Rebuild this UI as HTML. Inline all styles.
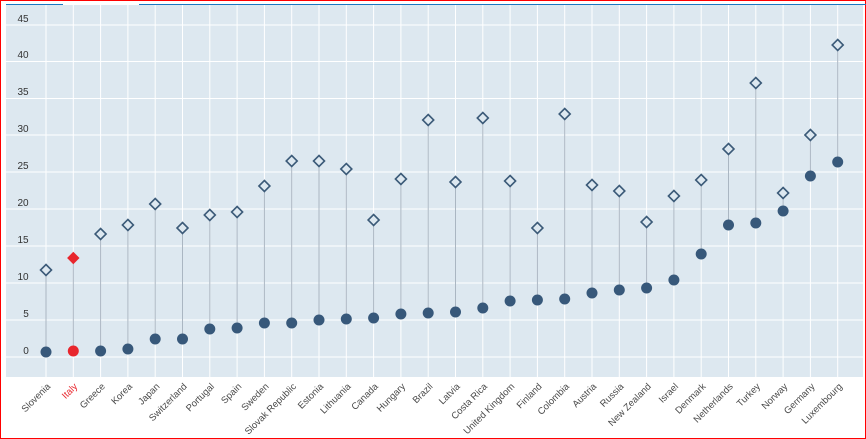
<!DOCTYPE html>
<html><head><meta charset="utf-8"><style>
html,body{margin:0;padding:0;background:#fff}
svg{display:block;font-family:"Liberation Sans",sans-serif}
</style></head><body>
<svg width="866" height="439" viewBox="0 0 866 439">
<rect x="0.5" y="0.5" width="865" height="438" fill="#fff" stroke="#f00"/>
<rect x="6" y="5" width="857" height="372" fill="#dde8f0"/>
<line x1="6" y1="4.5" x2="63" y2="4.5" stroke="#1a78c2"/>
<line x1="139" y1="4.5" x2="866" y2="4.5" stroke="#1a78c2"/>
<g stroke="#fff" stroke-width="1">
<line x1="6" x2="863" y1="25" y2="25"/><line x1="6" x2="863" y1="61.5" y2="61.5"/><line x1="6" x2="863" y1="98.5" y2="98.5"/><line x1="6" x2="863" y1="135" y2="135"/><line x1="6" x2="863" y1="172" y2="172"/><line x1="6" x2="863" y1="209" y2="209"/><line x1="6" x2="863" y1="246" y2="246"/><line x1="6" x2="863" y1="283" y2="283"/><line x1="6" x2="863" y1="320" y2="320"/><line x1="6" x2="863" y1="357" y2="357"/>
<line x1="46" x2="46" y1="5" y2="377"/><line x1="73.3" x2="73.3" y1="5" y2="377"/><line x1="100.6" x2="100.6" y1="5" y2="377"/><line x1="127.9" x2="127.9" y1="5" y2="377"/><line x1="155.2" x2="155.2" y1="5" y2="377"/><line x1="182.5" x2="182.5" y1="5" y2="377"/><line x1="209.8" x2="209.8" y1="5" y2="377"/><line x1="237.1" x2="237.1" y1="5" y2="377"/><line x1="264.4" x2="264.4" y1="5" y2="377"/><line x1="291.7" x2="291.7" y1="5" y2="377"/><line x1="319" x2="319" y1="5" y2="377"/><line x1="346.3" x2="346.3" y1="5" y2="377"/><line x1="373.6" x2="373.6" y1="5" y2="377"/><line x1="400.9" x2="400.9" y1="5" y2="377"/><line x1="428.2" x2="428.2" y1="5" y2="377"/><line x1="455.5" x2="455.5" y1="5" y2="377"/><line x1="482.8" x2="482.8" y1="5" y2="377"/><line x1="510.1" x2="510.1" y1="5" y2="377"/><line x1="537.4" x2="537.4" y1="5" y2="377"/><line x1="564.7" x2="564.7" y1="5" y2="377"/><line x1="592" x2="592" y1="5" y2="377"/><line x1="619.3" x2="619.3" y1="5" y2="377"/><line x1="646.6" x2="646.6" y1="5" y2="377"/><line x1="673.9" x2="673.9" y1="5" y2="377"/><line x1="701.2" x2="701.2" y1="5" y2="377"/><line x1="728.5" x2="728.5" y1="5" y2="377"/><line x1="755.8" x2="755.8" y1="5" y2="377"/><line x1="783.1" x2="783.1" y1="5" y2="377"/><line x1="810.4" x2="810.4" y1="5" y2="377"/><line x1="837.7" x2="837.7" y1="5" y2="377"/>
</g>
<g font-size="10" fill="#333" text-anchor="middle">
<text x="23" y="22">45</text><text x="23" y="58">40</text><text x="23" y="95">35</text><text x="23" y="132">30</text><text x="23" y="169">25</text><text x="23" y="206">20</text><text x="23" y="243">15</text><text x="23" y="280">10</text><text x="26" y="317">5</text><text x="26" y="354">0</text>
</g>
<g stroke="#aab6c2" stroke-width="1">
<line x1="46" x2="46" y1="270" y2="352"/><line x1="73.3" x2="73.3" y1="258" y2="351"/><line x1="100.6" x2="100.6" y1="234" y2="351"/><line x1="127.9" x2="127.9" y1="225" y2="349"/><line x1="155.2" x2="155.2" y1="204" y2="339"/><line x1="182.5" x2="182.5" y1="228" y2="339"/><line x1="209.8" x2="209.8" y1="215" y2="329"/><line x1="237.1" x2="237.1" y1="212" y2="328"/><line x1="264.4" x2="264.4" y1="186" y2="323"/><line x1="291.7" x2="291.7" y1="161" y2="323"/><line x1="319" x2="319" y1="161" y2="320"/><line x1="346.3" x2="346.3" y1="169" y2="319"/><line x1="373.6" x2="373.6" y1="220" y2="318"/><line x1="400.9" x2="400.9" y1="179" y2="314"/><line x1="428.2" x2="428.2" y1="120" y2="313"/><line x1="455.5" x2="455.5" y1="182" y2="312"/><line x1="482.8" x2="482.8" y1="118" y2="308"/><line x1="510.1" x2="510.1" y1="181" y2="301"/><line x1="537.4" x2="537.4" y1="228" y2="300"/><line x1="564.7" x2="564.7" y1="114" y2="299"/><line x1="592" x2="592" y1="185" y2="293"/><line x1="619.3" x2="619.3" y1="191" y2="290"/><line x1="646.6" x2="646.6" y1="222" y2="288"/><line x1="673.9" x2="673.9" y1="196" y2="280"/><line x1="701.2" x2="701.2" y1="180" y2="254"/><line x1="728.5" x2="728.5" y1="149" y2="225"/><line x1="755.8" x2="755.8" y1="83" y2="223"/><line x1="783.1" x2="783.1" y1="193" y2="211"/><line x1="810.4" x2="810.4" y1="135" y2="176"/><line x1="837.7" x2="837.7" y1="45" y2="162"/>
</g>
<defs><path id="d" d="M0,-5.5 L5.5,0 L0,5.5 L-5.5,0Z"/></defs>
<g fill="#dde8f0" stroke="#3b5a78" stroke-width="1.6">
<use href="#d" x="46" y="270"/><use href="#d" x="100.6" y="234"/><use href="#d" x="127.9" y="225"/><use href="#d" x="155.2" y="204"/><use href="#d" x="182.5" y="228"/><use href="#d" x="209.8" y="215"/><use href="#d" x="237.1" y="212"/><use href="#d" x="264.4" y="186"/><use href="#d" x="291.7" y="161"/><use href="#d" x="319" y="161"/><use href="#d" x="346.3" y="169"/><use href="#d" x="373.6" y="220"/><use href="#d" x="400.9" y="179"/><use href="#d" x="428.2" y="120"/><use href="#d" x="455.5" y="182"/><use href="#d" x="482.8" y="118"/><use href="#d" x="510.1" y="181"/><use href="#d" x="537.4" y="228"/><use href="#d" x="564.7" y="114"/><use href="#d" x="592" y="185"/><use href="#d" x="619.3" y="191"/><use href="#d" x="646.6" y="222"/><use href="#d" x="673.9" y="196"/><use href="#d" x="701.2" y="180"/><use href="#d" x="728.5" y="149"/><use href="#d" x="755.8" y="83"/><use href="#d" x="783.1" y="193"/><use href="#d" x="810.4" y="135"/><use href="#d" x="837.7" y="45"/>
</g>
<use href="#d" x="73.3" y="258" fill="#e8262d" stroke="#e8262d" stroke-width="1"/>
<g fill="#37587a">
<circle cx="46" cy="352" r="5.5"/><circle cx="100.6" cy="351" r="5.5"/><circle cx="127.9" cy="349" r="5.5"/><circle cx="155.2" cy="339" r="5.5"/><circle cx="182.5" cy="339" r="5.5"/><circle cx="209.8" cy="329" r="5.5"/><circle cx="237.1" cy="328" r="5.5"/><circle cx="264.4" cy="323" r="5.5"/><circle cx="291.7" cy="323" r="5.5"/><circle cx="319" cy="320" r="5.5"/><circle cx="346.3" cy="319" r="5.5"/><circle cx="373.6" cy="318" r="5.5"/><circle cx="400.9" cy="314" r="5.5"/><circle cx="428.2" cy="313" r="5.5"/><circle cx="455.5" cy="312" r="5.5"/><circle cx="482.8" cy="308" r="5.5"/><circle cx="510.1" cy="301" r="5.5"/><circle cx="537.4" cy="300" r="5.5"/><circle cx="564.7" cy="299" r="5.5"/><circle cx="592" cy="293" r="5.5"/><circle cx="619.3" cy="290" r="5.5"/><circle cx="646.6" cy="288" r="5.5"/><circle cx="673.9" cy="280" r="5.5"/><circle cx="701.2" cy="254" r="5.5"/><circle cx="728.5" cy="225" r="5.5"/><circle cx="755.8" cy="223" r="5.5"/><circle cx="783.1" cy="211" r="5.5"/><circle cx="810.4" cy="176" r="5.5"/><circle cx="837.7" cy="162" r="5.5"/>
</g>
<circle cx="73.3" cy="351" r="5.5" fill="#e8262d"/>
<g font-size="9.5" fill="#4a4a4a" text-anchor="end">
<text transform="translate(51,387) rotate(-45)">Slovenia</text>
<text transform="translate(78,387) rotate(-45)" fill="#e8262d">Italy</text>
<text transform="translate(105.6,387) rotate(-45)">Greece</text>
<text transform="translate(132.9,387) rotate(-45)">Korea</text>
<text transform="translate(160.2,387) rotate(-45)">Japan</text>
<text transform="translate(187.5,387) rotate(-45)">Switzerland</text>
<text transform="translate(214.8,387) rotate(-45)">Portugal</text>
<text transform="translate(242.1,387) rotate(-45)">Spain</text>
<text transform="translate(269.4,387) rotate(-45)">Sweden</text>
<text transform="translate(296.7,387) rotate(-45)">Slovak Republic</text>
<text transform="translate(324,387) rotate(-45)">Estonia</text>
<text transform="translate(351.3,387) rotate(-45)">Lithuania</text>
<text transform="translate(378.6,387) rotate(-45)">Canada</text>
<text transform="translate(405.9,387) rotate(-45)">Hungary</text>
<text transform="translate(433.2,387) rotate(-45)">Brazil</text>
<text transform="translate(460.5,387) rotate(-45)">Latvia</text>
<text transform="translate(487.8,387) rotate(-45)">Costa Rica</text>
<text transform="translate(515.1,387) rotate(-45)">United Kingdom</text>
<text transform="translate(542.4,387) rotate(-45)">Finland</text>
<text transform="translate(569.7,387) rotate(-45)">Colombia</text>
<text transform="translate(597,387) rotate(-45)">Austria</text>
<text transform="translate(624.3,387) rotate(-45)">Russia</text>
<text transform="translate(651.6,387) rotate(-45)">New Zealand</text>
<text transform="translate(678.9,387) rotate(-45)">Israel</text>
<text transform="translate(706.2,387) rotate(-45)">Denmark</text>
<text transform="translate(733.5,387) rotate(-45)">Netherlands</text>
<text transform="translate(760.8,387) rotate(-45)">Turkey</text>
<text transform="translate(788.1,387) rotate(-45)">Norway</text>
<text transform="translate(815.4,387) rotate(-45)">Germany</text>
<text transform="translate(842.7,387) rotate(-45)">Luxembourg</text>
</g>
</svg>
</body></html>
